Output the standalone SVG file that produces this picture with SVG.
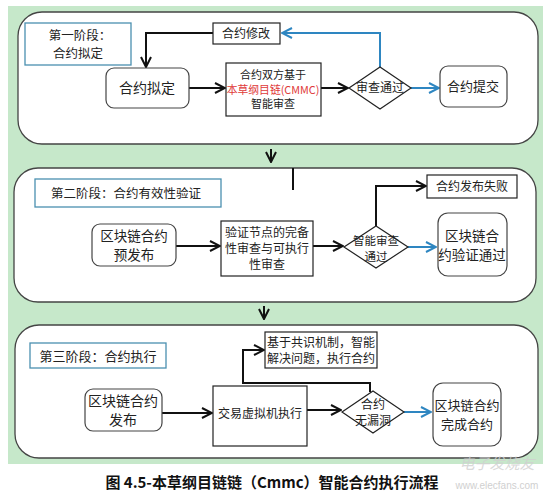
<svg xmlns="http://www.w3.org/2000/svg" width="551" height="494" viewBox="0 0 551 494">
<defs>
<marker id="ab" viewBox="0 0 12 12" refX="11" refY="6" markerWidth="12" markerHeight="12" markerUnits="userSpaceOnUse" orient="auto">
<path d="M1,1 L11,6 L1,11" fill="none" stroke="#111" stroke-width="2"/>
</marker>
<marker id="au" viewBox="0 0 12 12" refX="11" refY="6" markerWidth="12" markerHeight="12" markerUnits="userSpaceOnUse" orient="auto">
<path d="M1,1 L11,6 L1,11" fill="none" stroke="#2e86c1" stroke-width="2"/>
</marker>
</defs>
<style>
.panel{fill:#fff;stroke:#444;stroke-width:1.3}
.title{fill:#fff;stroke:#4a90b0;stroke-width:1.3}
.box{fill:#fff;stroke:#222;stroke-width:1.2}
.rbox{fill:#fff;stroke:#444;stroke-width:1.2}
.t{font-family:"Noto Sans CJK SC","Noto Sans",sans-serif;fill:#222;text-anchor:middle}
.k{fill:none;stroke:#111;stroke-width:2}
.b{fill:none;stroke:#2e86c1;stroke-width:2}
</style>
<rect x="0" y="0" width="551" height="494" fill="#fff"/>
<rect x="8" y="6" width="535" height="458" fill="#c6e8ca"/>

<g id="panel1">
<rect class="panel" x="18" y="12" width="520" height="132" rx="24"/>
</g>
<g id="panel2">
<rect class="panel" x="14" y="168" width="522" height="134" rx="24"/>
</g>
<g id="panel3">
<rect class="panel" x="15" y="325" width="523" height="133" rx="24"/>
</g>

<g id="connectors">
<path class="k" d="M271,149 V162" marker-end="url(#ab)"/>
<path class="k" d="M264,306 V319" marker-end="url(#ab)"/>
<path class="k" d="M213,33 H146 V67" marker-end="url(#ab)"/>
<path class="b" d="M380,67 V33 H282" marker-end="url(#au)"/>
<path class="k" d="M189,88 H225" marker-end="url(#ab)"/>
<path class="k" d="M321,88 H348" marker-end="url(#ab)"/>
<path class="b" d="M411,88 H439" marker-end="url(#au)"/>
<path class="k" d="M293,168 V190" stroke-width="1.5"/>
<path class="k" d="M176,246 H220" marker-end="url(#ab)"/>
<path class="k" d="M313,246 H343" marker-end="url(#ab)"/>
<path class="k" d="M376,226 V186 H426" marker-end="url(#ab)"/>
<path class="b" d="M408,247 H436" marker-end="url(#au)"/>
<path class="k" d="M162,413 H212" marker-end="url(#ab)"/>
<path class="k" d="M307,410 H341" marker-end="url(#ab)"/>
<path class="k" d="M370,392 V383 H243 V350 H264" marker-end="url(#ab)"/>
<path class="b" d="M404,412 H431" marker-end="url(#au)"/>
</g>

<g id="title1">
<rect class="title" x="25" y="23" width="106" height="42"/>
<text class="t" x="80" y="40" font-size="12.5">第一阶段：</text>
<text class="t" x="78" y="58" font-size="12.5">合约拟定</text>
</g>
<g id="modify">
<rect class="box" x="213" y="23" width="67" height="21"/>
<text class="t" x="246" y="38" font-size="12">合约修改</text>
</g>
<g id="draft">
<rect class="rbox" x="106" y="68" width="83" height="40" rx="8"/>
<text class="t" x="147" y="93" font-size="14">合约拟定</text>
</g>
<g id="review1">
<rect class="box" x="226" y="63" width="95" height="53"/>
<text class="t" x="273" y="79" font-size="11">合约双方基于</text>
<text class="t" x="273" y="93.5" font-size="10.8" style="fill:#e03a3a">本草纲目链(CMMC)</text>
<text class="t" x="273" y="108" font-size="11">智能审查</text>
</g>
<g id="pass1">
<polygon class="box" points="349,88 380,67 411,88 380,109"/>
<text class="t" x="380" y="92" font-size="12">审查通过</text>
</g>
<g id="submit">
<rect class="rbox" x="440" y="66" width="67" height="41" rx="8"/>
<text class="t" x="473" y="91" font-size="13">合约提交</text>
</g>

<g id="title2">
<rect class="title" x="35" y="179" width="186" height="28"/>
<text class="t" x="126" y="198" font-size="12.5">第二阶段：合约有效性验证</text>
</g>
<g id="prepub">
<rect class="rbox" x="92" y="224" width="84" height="42" rx="8"/>
<text class="t" x="134" y="241" font-size="13.5">区块链合约</text>
<text class="t" x="134" y="260" font-size="13.5">预发布</text>
</g>
<g id="verify">
<rect class="box" x="221" y="221" width="92" height="55"/>
<text class="t" x="267" y="237" font-size="12">验证节点的完备</text>
<text class="t" x="267" y="253" font-size="12">性审查与可执行</text>
<text class="t" x="267" y="269" font-size="12">性审查</text>
</g>
<g id="pass2">
<polygon class="box" points="344,247 376,226 408,247 376,268"/>
<text class="t" x="376" y="245" font-size="11.5">智能审查</text>
<text class="t" x="376" y="260.5" font-size="11.5">通过</text>
</g>
<g id="fail">
<rect class="box" x="427" y="175" width="90" height="23"/>
<text class="t" x="472" y="191" font-size="12">合约发布失败</text>
</g>
<g id="verified">
<rect class="rbox" x="438" y="213" width="69" height="63" rx="10"/>
<text class="t" x="472" y="241" font-size="13.5">区块链合</text>
<text class="t" x="472" y="260" font-size="13.5">约验证通过</text>
</g>

<g id="title3">
<rect class="title" x="30" y="343" width="136" height="25"/>
<text class="t" x="98" y="361" font-size="13">第三阶段：合约执行</text>
</g>
<g id="publish">
<rect class="rbox" x="85" y="389" width="77" height="42" rx="8"/>
<text class="t" x="123" y="406" font-size="14">区块链合约</text>
<text class="t" x="123" y="425" font-size="14">发布</text>
</g>
<g id="vm">
<rect class="box" x="213" y="386" width="94" height="60"/>
<text class="t" x="260" y="418" font-size="12">交易虚拟机执行</text>
</g>
<g id="consensus">
<rect class="box" x="265" y="332" width="112" height="36"/>
<text class="t" x="321" y="347" font-size="12">基于共识机制，智能</text>
<text class="t" x="321" y="363" font-size="12">解决问题，执行合约</text>
</g>
<g id="nobug">
<polygon class="box" points="342,412 373,391 404,412 373,433"/>
<text class="t" x="373" y="409" font-size="12">合约</text>
<text class="t" x="373" y="425" font-size="12">无漏洞</text>
</g>
<g id="done">
<rect class="rbox" x="433" y="383" width="68" height="63" rx="10"/>
<text class="t" x="467" y="410" font-size="13">区块链合约</text>
<text class="t" x="467" y="429" font-size="13">完成合约</text>
</g>

<text x="272" y="488" font-family="'Noto Sans CJK SC','Noto Sans',sans-serif" font-size="15" font-weight="bold" fill="#111" text-anchor="middle">图 4.5-本草纲目链链（Cmmc）智能合约执行流程</text>
<text x="497" y="469" font-family="'Noto Sans CJK SC',sans-serif" font-size="15" font-style="italic" fill="#d0d0d0" text-anchor="middle" opacity="0.8">电子发烧友</text>
<text x="497" y="489" font-family="'Liberation Sans',sans-serif" font-size="10" fill="#d0d0d0" text-anchor="middle">www.elecfans.com</text>
</svg>
